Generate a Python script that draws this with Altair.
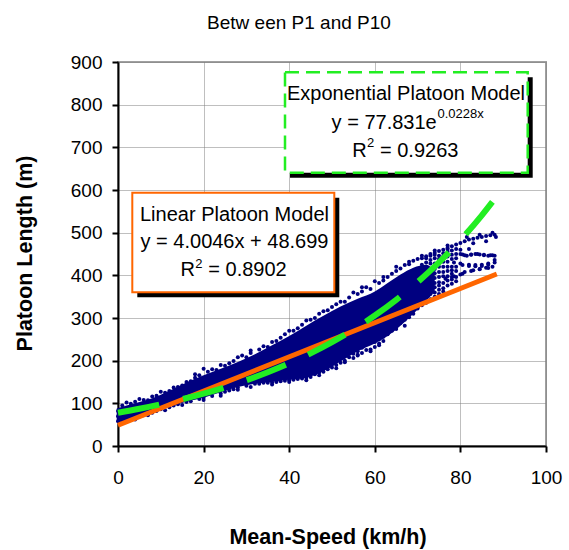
import altair as alt
import pandas as pd

FONT = "Liberation Sans, Arial, sans-serif"
NAVY = "#000080"
ORANGE = "#ff6600"
GREEN = "#22ee22"

# ---- data ----
# dense core of the scatter cloud (lower / upper envelope)
band_x = [-0.3, 2, 5, 8, 10, 13, 16, 20, 24, 28, 32, 36, 40, 44, 48, 52, 56, 60, 63, 66, 69, 72, 74]
band_low = [56, 60, 68, 78, 85, 95, 104, 113, 126, 138, 146, 150, 155, 160, 175, 198, 222, 240, 258, 282, 310, 340, 362]
band_high = [88, 95, 103, 112, 120, 134, 149, 166, 181, 197, 215, 236, 258, 282, 305, 327, 345, 362, 382, 402, 418, 425, 410]

# individual points: upper edge
up_x = [1, 3, 4, 6, 7, 9, 11, 12, 14, 15, 17, 18, 19, 21, 22, 23, 25, 26, 27, 29, 30, 31, 33, 34, 35, 37, 38, 39,
        41, 42, 43, 45, 46, 47, 49, 50, 51, 53, 54, 56, 57, 58, 59, 61, 62, 63, 64, 65, 66, 67, 68, 69, 70, 71,
        72, 73, 74, 75, 76, 77, 78,
        2, 5, 8, 10, 13, 16, 18, 20, 24, 28, 31, 36, 40, 44, 48, 52, 55, 57, 60, 62, 65, 68, 71, 74, 77]
up_y = [95, 99, 104, 108, 107, 118, 125, 129, 138, 142, 152, 160, 166, 174, 180, 178, 188, 194, 199, 212, 208, 218,
        226, 234, 232, 246, 254, 262, 270, 276, 284, 296, 300, 310, 318, 326, 332, 338, 348, 356, 362, 372, 368,
        382, 388, 396, 404, 410, 416, 424, 426, 434, 438, 440, 445, 450, 453, 457, 460, 464, 468,
        102, 110, 116, 127, 137, 150, 168, 181, 190, 208, 224, 244, 270, 294, 316, 338, 360, 372, 386, 396, 420,
        432, 446, 458, 470]

# individual points: lower edge
lo_x = [1, 3, 6, 9, 12, 14, 17, 19, 22, 25, 27, 30, 33, 35, 37, 39, 41, 43, 45, 46, 48, 50, 52, 54, 55, 56, 57,
        58, 59, 60, 61, 62, 63, 65, 66, 67, 68, 70, 72, 73, 75, 76,
        4, 7, 11, 15, 20, 24, 28, 31, 36, 40, 44, 47, 51, 53, 56, 59, 61, 64, 69, 71, 74,
        64, 65, 66, 67, 60, 61, 62, 58, 57, 56, 55, 53, 51, 49, 47, 44, 42, 40, 38, 36, 34, 32, 28, 26, 24, 20,
        16, 13, 10, 8, 5, 2, 0, 0, 0, 0.5, 0.5]
lo_y = [58, 62, 72, 82, 91, 98, 105, 110, 117, 127, 133, 141, 146, 148, 150, 153, 155, 158, 162, 168, 174, 184,
        195, 208, 216, 222, 230, 238, 226, 244, 250, 256, 262, 274, 288, 296, 302, 322, 336, 344, 356, 362,
        62, 72, 84, 96, 108, 118, 132, 138, 144, 150, 154, 166, 182, 196, 214, 222, 236, 270, 310, 330, 350,
        300, 290, 305, 282, 232, 240, 246, 225, 218, 212, 206, 200, 190, 180, 172, 160, 157, 154, 152, 149, 148,
        146, 137, 130, 123, 113, 103, 95, 86, 78, 69, 60, 58, 70, 82, 64, 76]

# individual points: looser high-speed region
hs_x = [72, 72, 72, 72, 72, 72, 72, 73, 73, 73, 73, 73, 73, 73, 74, 74, 74, 74, 74, 74, 75, 75, 75, 75, 75, 75,
        76, 76, 76, 76, 76, 77, 77, 77, 77, 77, 78, 78, 78, 78, 78, 78, 79, 79, 79, 79, 79,
        70, 70, 70, 71, 71, 72, 72, 73, 73, 74, 74, 74, 75, 75, 75, 76, 76, 76, 77, 77, 77, 77, 78, 78, 78, 78.5,
        79, 79, 79, 80, 80, 80, 80, 80, 81, 81, 81, 81.5, 82, 82, 82, 82.5, 83, 83, 83, 83.5, 84, 84, 84.5, 84.5,
        85, 85, 85.5, 86, 86, 86, 86.5, 87, 87, 87.5, 87.5, 88, 88, 88, 88.3,
        80.5, 81.5, 82.5, 83.5, 84.5, 85.5, 86.5, 87.5, 80.5, 82, 83.5, 85, 86.5, 88, 76.5, 78.5, 80.5, 82.5, 84.5,
        86.5]
hs_y = [350, 362, 372, 396, 408, 420, 430, 356, 368, 380, 390, 412, 436, 446, 360, 382, 394, 405, 428, 448, 366,
        376, 396, 408, 420, 438, 370, 382, 408, 432, 452, 376, 398, 420, 444, 462, 380, 390, 404, 420, 438, 458,
        386, 396, 410, 440, 462,
        355, 395, 412, 370, 425, 385, 440, 400, 428, 372, 415, 440, 384, 430, 446, 398, 420, 445, 388, 410, 432,
        455, 396, 412, 448, 430, 420, 450, 472, 402, 428, 450, 460, 476, 408, 447, 480, 490, 425, 462, 484, 449,
        412, 475, 486, 424, 450, 488, 415, 495, 425, 490, 448, 418, 480, 492, 428, 447, 494, 420, 500, 436, 446,
        495, 490,
        449, 446, 448, 450, 449, 447, 446, 447, 424, 422, 421, 422, 425, 430, 392, 398, 404, 410, 414, 417]

# trend lines (Linear: y = 4.0046x + 48.699 ; Exponential: y = 77.831e^0.0228x)
lin_x = [0, 88.5]
lin_y = [48.7, 403.1]
exp_x = [0, 5, 10, 15, 20, 25, 30, 35, 40, 45, 50, 55, 60, 65, 70, 75, 80, 85, 88]
exp_y = [77.8, 87.2, 97.8, 109.6, 122.8, 137.6, 154.2, 172.9, 193.7, 217.1, 243.4, 272.7, 305.7, 342.6,
         384.0, 430.3, 482.3, 540.5, 578.8]

x_ticks = [0, 20, 40, 60, 80, 100]
y_ticks = [0, 100, 200, 300, 400, 500, 600, 700, 800, 900]

band_df = pd.DataFrame({"x": band_x, "low": band_low, "high": band_high})
pts_df = pd.DataFrame({"x": up_x + lo_x + hs_x, "y": up_y + lo_y + hs_y})
lin_df = pd.DataFrame({"x": lin_x, "y": lin_y})
exp_df = pd.DataFrame({"x": exp_x, "y": exp_y})

x_scale = alt.Scale(domain=[0, 100], nice=False, zero=False)
y_scale = alt.Scale(domain=[0, 900], nice=False, zero=False)

common_axis = dict(
    grid=True, gridColor="#7f7f7f", gridDash=[1, 1], gridWidth=1,
    domainColor="black", domainWidth=2, tickColor="black", tickWidth=2, tickSize=6,
    labelFont=FONT, labelFontSize=19, labelColor="black", labelFlush=False, labelOverlap=False,
    titleFont=FONT, titleFontSize=21.5, titleFontWeight="bold", titleColor="black",
)
x_axis = alt.Axis(values=x_ticks, labelPadding=31, labelBaseline="alphabetic",
                  titleX=209.5, titleY=97, titleBaseline="alphabetic", titleAlign="center",
                  **common_axis)
y_axis = alt.Axis(values=y_ticks, labelPadding=10,
                  titleX=-87, titleY=191, titleBaseline="alphabetic", titleAlign="center",
                  **common_axis)

TX = "Mean-Speed (km/h)"
TY = "Platoon Length (m)"


def X(f):
    return alt.X(f, type="quantitative", scale=x_scale, axis=x_axis, title=TX)


def Y(f):
    return alt.Y(f, type="quantitative", scale=y_scale, axis=y_axis, title=TY)


band = alt.Chart(band_df).mark_area(color=NAVY, opacity=1, interpolate="monotone").encode(
    x=X("x"), y=Y("low"), y2=alt.Y2("high"))
points = alt.Chart(pts_df).mark_circle(color=NAVY, size=16, opacity=1).encode(x=X("x"), y=Y("y"))
lin_line = alt.Chart(lin_df).mark_line(color=ORANGE, strokeWidth=5, strokeCap="butt").encode(
    x=X("x"), y=Y("y"))
exp_line = alt.Chart(exp_df).mark_line(color=GREEN, strokeWidth=6, strokeDash=[42, 24.5],
                                       strokeCap="butt", interpolate="monotone").encode(x=X("x"), y=Y("y"))


def rect(x1, x2, y1, y2, **kw):
    return alt.Chart(alt.Data(values=[{"k": 1}])).mark_rect(**kw).encode(
        x=alt.value(x1), x2=alt.value(x2), y=alt.value(y1), y2=alt.value(y2))


def label(text, x, y, size=20, align="center", weight="normal"):
    return alt.Chart(alt.Data(values=[{"t": text}])).mark_text(
        align=align, baseline="alphabetic", font=FONT, fontSize=size, fontWeight=weight,
        color="black").encode(x=alt.value(x), y=alt.value(y), text="t:N")


# exponential model box
exp_shadow = rect(172, 414.7, 15.3, 115.7, color="black")
exp_box = rect(167, 409.7, 10.3, 110.7, fill="white", stroke=GREEN, strokeWidth=2.5, strokeDash=[14, 7])
exp_texts = [
    label("Exponential Platoon Model", 288, 38),
    label("y = 77.831e", 318.7, 67.3, align="right"),
    label("0.0228x", 319.5, 56.3, size=13, align="left"),
    label("R", 248.7, 94.7, align="right"),
    label("2", 249, 85, size=13, align="left"),
    label("= 0.9263", 262, 94.7, align="left"),
]

# linear model box
lin_shadow = rect(19.3, 221.3, 135.7, 235.3, color="black")
lin_box = rect(14.3, 216.3, 130.7, 230.3, fill="white", stroke=ORANGE, strokeWidth=2)
lin_texts = [
    label("Linear Platoon Model", 116.5, 159),
    label("y = 4.0046x + 48.699", 116.5, 186.3),
    label("R", 77, 214, align="right"),
    label("2", 77.3, 206, size=13, align="left"),
    label("= 0.8902", 90.3, 214, align="left"),
]

title = label("Betw een P1 and P10", 181, -33, size=19)

chart = alt.layer(
    band, points, lin_line, exp_line,
    exp_shadow, exp_box, *exp_texts,
    lin_shadow, lin_box, *lin_texts,
    title,
).properties(
    width=428, height=384,
    autosize=alt.AutoSizeParams(type="none"),
    padding={"left": 118, "top": 62, "right": 23, "bottom": 104},
    background="white",
).configure_view(stroke="#a0a0a0", strokeWidth=2)

chart.save("out.html", embed_options={"renderer": "svg", "actions": False})
